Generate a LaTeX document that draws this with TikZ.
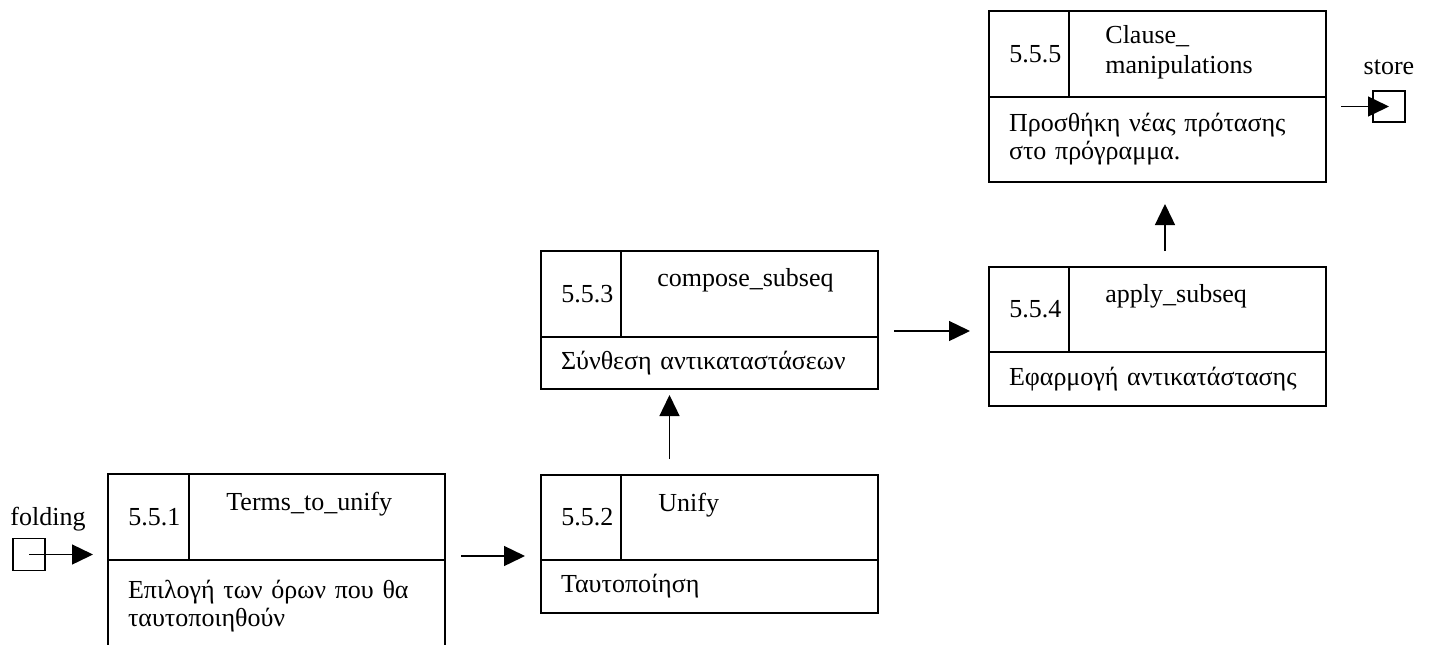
\documentclass[tikz,border=0pt]{standalone}
\usepackage{fontspec}
\setmainfont{Liberation Serif}
\usetikzlibrary{arrows.meta}
\usetikzlibrary{positioning}

\tikzset{
	head/.style={draw,line width=0.9pt,anchor=north west,minimum width=168.5pt,inner sep=0pt,outer sep=0pt},
	desc/.style={draw,line width=0.9pt,minimum width=168.5pt,text width=148.5pt,inner xsep=10pt,inner ysep=0pt,outer sep=0pt,align=left,font=\fontsize{13pt}{14pt}\selectfont},
	num/.style={anchor=west,inner sep=0pt},
	title/.style={anchor=north west,inner sep=0pt,align=left,execute at begin node=\strut},
	port/.style={draw,line width=0.8pt,minimum width=16pt,minimum height=16pt,inner sep=0pt,outer sep=0pt},
	flow/.style={->,line width=0.7pt}
}

\begin{document}
\begin{tikzpicture}[x=0.5pt,y=-0.5pt,>/.tip={Triangle[length=10.5pt,width=10pt]},font=\fontsize{13pt}{15pt}\selectfont]
	\useasboundingbox (0,0) rectangle (1431,644);
	\clip (0,0) rectangle (1431,644);

	% 5.5.1
	\node (h1) [head,minimum height=43pt] at (108,474) {};
	\node (d1) [desc,minimum height=46pt,below=0pt of h1] {Επιλογή των όρων που θα\\ταυτοποιηθούν};
	\draw[line width=0.9pt] (h1.north west) ++(40.5pt,0) coordinate (v1) -- (v1 |- h1.south);
	\node (n1) [num] at ([xshift=10pt]h1.west) {5.5.1};
	\node (t1) [title] at ([xshift=18.5pt,yshift=-7.5pt]v1) {Terms\_to\_unify};

	% 5.5.2
	\node (h2) [head,minimum height=42.5pt] at (541,475) {};
	\node (d2) [desc,minimum height=26.5pt,below=0pt of h2] {Ταυτοποίηση};
	\draw[line width=0.9pt] (h2.north west) ++(40pt,0) coordinate (v2) -- (v2 |- h2.south);
	\node (n2) [num] at ([xshift=10pt]h2.west) {5.5.2};
	\node (t2) [title] at ([xshift=18.5pt,yshift=-7.5pt]v2) {Unify};

	% 5.5.3
	\node (h3) [head,minimum height=43pt] at (541,251) {};
	\node (d3) [desc,minimum height=26pt,below=0pt of h3] {Σύνθεση αντικαταστάσεων};
	\draw[line width=0.9pt] (h3.north west) ++(40pt,0) coordinate (v3) -- (v3 |- h3.south);
	\node (n3) [num] at ([xshift=10pt]h3.west) {5.5.3};
	\node (t3) [title] at ([xshift=18pt,yshift=-7pt]v3) {compose\_subseq};

	% 5.5.4
	\node (h4) [head,minimum height=42.5pt] at (989,267) {};
	\node (d4) [desc,minimum height=27pt,below=0pt of h4] {Εφαρμογή αντικατάστασης};
	\draw[line width=0.9pt] (h4.north west) ++(40pt,0) coordinate (v4) -- (v4 |- h4.south);
	\node (n4) [num] at ([xshift=10pt]h4.west) {5.5.4};
	\node (t4) [title] at ([xshift=18pt,yshift=-7pt]v4) {apply\_subseq};

	% 5.5.5
	\node (h5) [head,minimum height=43pt] at (989,11) {};
	\node (d5) [desc,minimum height=42.5pt,below=0pt of h5] {Προσθήκη νέας πρότασης\\στο πρόγραμμα.};
	\draw[line width=0.9pt] (h5.north west) ++(40pt,0) coordinate (v5) -- (v5 |- h5.south);
	\node (n5) [num] at ([xshift=10pt]h5.west) {5.5.5};
	\node (t5) [title] at ([xshift=18pt,yshift=-7pt]v5) {Clause\_\\manipulations};

	% input and output
	\node (fold) [port] at (29,554.5) {};
	\node (foldlbl) [anchor=south west,inner sep=0pt] at ([xshift=-1.5pt,yshift=3.7pt]fold.north west) {folding};
	\node (store) [port,minimum height=15.5pt] at (1389,106.5) {};
	\node (storelbl) [above=8pt of store,inner sep=0pt] {store};

	\draw[flow,shorten >=7.5pt] (fold.center) -- (fold.center -| h1.west);
	\draw[flow,shorten <=8pt,shorten >=8pt] ([yshift=2pt]h1.south east) -- ([yshift=2pt]h2.south west);
	\draw[flow,shorten <=8pt,shorten >=3pt] ([xshift=-20pt]h2.north) -- ([xshift=-20pt]d3.south);
	\draw[flow,shorten <=8pt,shorten >=9.5pt] ([yshift=3pt]h3.south east) -- ([yshift=3pt]h3.south east -| h4.west);
	\draw[flow,shorten <=8pt,shorten >=11pt] ([xshift=3.75pt]h4.north) -- ([xshift=3.75pt]d5.south);
	\draw[flow,shorten <=7.5pt] (store.center -| d5.east) -- (store.center);
\end{tikzpicture}
\end{document}
